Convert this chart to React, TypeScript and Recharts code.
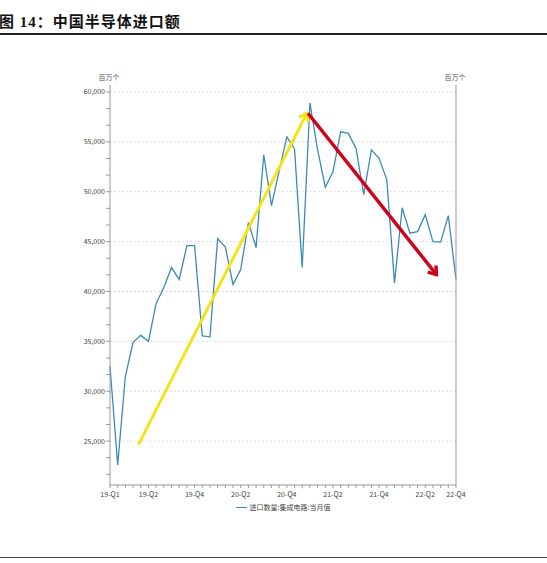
import React from 'react';
import { LineChart, Line, XAxis, YAxis, ReferenceLine, Legend } from 'recharts';

// monthly, 2019-01 .. 2022-10
const months = [
  '2019-01', '2019-02', '2019-03', '2019-04', '2019-05', '2019-06', '2019-07', '2019-08', '2019-09', '2019-10', '2019-11', '2019-12',
  '2020-01', '2020-02', '2020-03', '2020-04', '2020-05', '2020-06', '2020-07', '2020-08', '2020-09', '2020-10', '2020-11', '2020-12',
  '2021-01', '2021-02', '2021-03', '2021-04', '2021-05', '2021-06', '2021-07', '2021-08', '2021-09', '2021-10', '2021-11', '2021-12',
  '2022-01', '2022-02', '2022-03', '2022-04', '2022-05', '2022-06', '2022-07', '2022-08', '2022-09', '2022-10',
];

const importVolume = [
  32500, 22600, 31500, 34900, 35600, 35000, 38800, 40400, 42400, 41200, 44600, 44600,
  35550, 35450, 45300, 44450, 40700, 42200, 46900, 44400, 53700, 48600, 52100, 55500,
  54300, 42400, 58900, 54200, 50450, 52000, 56000, 55850, 54350, 49700, 54200, 53350,
  51200, 40850, 48400, 45850, 46000, 47700, 45000, 44950, 47600, 41200,
];

const xLabels: Record<number, string> = {
  0: '19-Q1', 5: '19-Q2', 11: '19-Q4', 17: '20-Q2', 23: '20-Q4',
  29: '21-Q2', 35: '21-Q4', 41: '22-Q2', 45: '22-Q4',
};

const majorTicks = [25000, 30000, 35000, 40000, 45000, 50000, 55000, 60000];
const minorTicks = [
  21667, 23333, 25000, 26667, 28333, 30000, 31667, 33333, 35000, 36667, 38333, 40000,
  41667, 43333, 45000, 46667, 48333, 50000, 51667, 53333, 55000, 56667, 58333, 60000,
];

// trend arrows (index, value)
const upTrend = [{ x: 3.7, y: 24650 }, { x: 25.6, y: 57870 }];
const downTrend = [{ x: 25.75, y: 57870 }, { x: 42.45, y: 41700 }];

const data = months.map((m, i) => ({ idx: i, month: m, value: importVolume[i] }));
const xTicks = months.map((_, i) => i);

const FONT = '"Noto Sans CJK SC", sans-serif';
const LINE_COLOR = '#3b8bb5';

const XTick = (props: any) => {
  const { x, y, payload } = props;
  const label = xLabels[payload.value];
  if (!label) return null;
  return (
    <text x={x} y={y + 7} textAnchor="middle" fontSize={7} fill="#444" fontFamily={FONT}>
      {label}
    </text>
  );
};

const YTick = (props: any) => {
  const { x, y, payload, textAnchor } = props;
  const v = Math.round(payload.value);
  if (!majorTicks.includes(v)) return null;
  return (
    <text x={x} y={y + 2.5} textAnchor={textAnchor} fontSize={7} fill="#444" fontFamily={FONT}>
      {v.toLocaleString('en-US')}
    </text>
  );
};

const arrow = (color: string, w: number, head: number) => (props: any) => {
  const { x1, y1, x2, y2 } = props;
  const ang = Math.atan2(y2 - y1, x2 - x1);
  const a1 = ang + Math.PI * 0.8;
  const a2 = ang - Math.PI * 0.8;
  const pts = `${x2 + head * Math.cos(a1)},${y2 + head * Math.sin(a1)} ${x2},${y2} ${x2 + head * Math.cos(a2)},${y2 + head * Math.sin(a2)}`;
  return (
    <g>
      <line x1={x1} y1={y1} x2={x2} y2={y2} stroke={color} strokeWidth={w} />
      <polyline points={pts} fill="none" stroke={color} strokeWidth={w} />
    </g>
  );
};

const LegendContent = () => (
  <div style={{ display: 'flex', justifyContent: 'center', alignItems: 'center', height: 14, fontSize: 7, color: '#444', fontFamily: FONT }}>
    <span style={{ display: 'inline-block', width: 11, borderTop: `1.5px solid ${LINE_COLOR}`, marginRight: 3 }} />
    进口数量:集成电路:当月值
  </div>
);

export default function App() {
  return (
    <div style={{ position: 'absolute', left: 0, top: 0, width: 547, height: 563, background: '#fff' }}>
      <div style={{ position: 'absolute', left: -1, top: 10, fontSize: 15, fontWeight: 'bold', letterSpacing: 1, fontFamily: '"Liberation Serif", "Noto Sans CJK SC", serif', color: '#111', whiteSpace: 'nowrap' }}>
        图 14：中国半导体进口额
      </div>
      <div style={{ position: 'absolute', left: 0, top: 33, width: 547, height: 2, background: '#222' }} />
      <div style={{ position: 'absolute', left: 0, top: 557, width: 547, height: 1, background: '#444' }} />
      <div style={{ position: 'absolute', left: 0, top: 0 }}>
        <LineChart width={547} height={563} data={data} margin={{ top: 85, right: 41, bottom: 49, left: 60 }}>
          {majorTicks.map((t) => (
            <ReferenceLine key={t} yAxisId="left" y={t} stroke="#ddd" strokeDasharray="2 2" />
          ))}
          <XAxis
            dataKey="idx"
            type="number"
            domain={[0, 45]}
            ticks={xTicks}
            interval={0}
            height={15}
            tickSize={3}
            tick={<XTick />}
            stroke="#999"
          />
          <YAxis
            yAxisId="left"
            orientation="left"
            width={50}
            domain={[20600, 60700]}
            ticks={minorTicks}
            interval={0}
            tickSize={4}
            tickMargin={1}
            tick={<YTick />}
            stroke="#999"
            label={{ value: '百万个', position: 'top', dx: 24, fontSize: 7, fill: '#555', fontFamily: FONT }}
          />
          <YAxis
            yAxisId="right"
            orientation="right"
            width={50}
            domain={[20600, 60700]}
            ticks={minorTicks}
            interval={0}
            tickSize={4}
            tickMargin={1}
            tick={<YTick />}
            stroke="#999"
            label={{ value: '百万个', position: 'top', dx: -26, fontSize: 7, fill: '#555', fontFamily: FONT }}
          />
          <Legend verticalAlign="bottom" height={14} content={<LegendContent />} />
          <Line
            yAxisId="left"
            type="linear"
            dataKey="value"
            name="进口数量:集成电路:当月值"
            stroke={LINE_COLOR}
            strokeWidth={1.3}
            dot={false}
            isAnimationActive={false}
          />
          <ReferenceLine yAxisId="left" segment={upTrend} shape={arrow('#f5e31a', 3, 9)} ifOverflow="visible" />
          <ReferenceLine yAxisId="left" segment={downTrend} shape={arrow('#d0021b', 3.5, 9)} ifOverflow="visible" />
        </LineChart>
      </div>
    </div>
  );
}
